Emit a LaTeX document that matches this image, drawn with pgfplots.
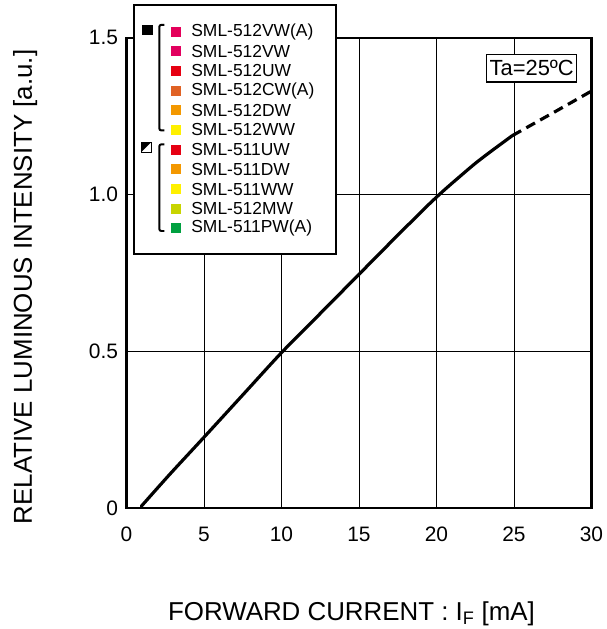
\documentclass[border=0pt]{standalone}
\usepackage{pgfplots}
\pgfplotsset{compat=1.18}
\usepackage{fontspec}
\setmainfont{Liberation Sans}
\definecolor{cVWA}{HTML}{E4005A}
\definecolor{cVW}{HTML}{E2005F}
\definecolor{cUW}{HTML}{E60012}
\definecolor{cCW}{HTML}{E06225}
\definecolor{cDW}{HTML}{F39800}
\definecolor{cWW}{HTML}{FFF000}
\definecolor{cMW}{HTML}{C8D400}
\definecolor{cPW}{HTML}{00A040}
\begin{document}
\begin{tikzpicture}[x=1pt,y=1pt]
\begin{axis}[
  at={(0,0)}, anchor=south west,
  width=467pt, height=472pt, scale only axis,
  xmin=0, xmax=30, ymin=0, ymax=1.5,
  xtick={0,5,...,30},
  ytick={0,0.5,1,1.5},
  yticklabels={0,0.5,1.0,1.5},
  major tick length=0pt,
  grid=major,
  grid style={black, line width=0.8pt},
  axis line style={line width=2.4pt},
  tick label style={font=\fontsize{21}{24}\selectfont},
  /pgf/number format/assume math mode=true,
  xticklabel style={yshift=-16pt},
  yticklabel style={xshift=-5pt},
  xlabel={FORWARD CURRENT : I\textsubscript{F} [mA]},
  ylabel={RELATIVE LUMINOUS INTENSITY [a.u.]},
  label style={font=\fontsize{26}{29}\selectfont},
  xlabel style={at={(axis description cs:0.484,-0.2394)}, anchor=base},
  ylabel style={at={(axis description cs:-0.2034,0.47)}, anchor=base},
  clip=false,
]
\addplot[black, line width=3.2pt, line cap=round, line join=round, smooth, tension=0.5] coordinates {
(0.96,0.005) (2,0.063) (3,0.118) (5,0.225) (7.5,0.36) (10,0.495) (12.5,0.62)
(15,0.745) (17.5,0.87) (18.5,0.919) (19.5,0.968) (20.5,1.014) (21.5,1.057) (22.5,1.099) (23.5,1.137) (24.9,1.188)};
\addplot[black, line width=3.2pt, dash pattern=on 10pt off 6pt] coordinates {
(24.9,1.188) (27.5,1.26) (30,1.33)};
\end{axis}
% Ta box
\node[draw, fill=white, line width=1.2pt, inner xsep=3pt, inner ysep=6pt,
  font=\fontsize{22}{25}\selectfont] at (407,441.5) {Ta=25ºC};
% legend box
\draw[fill=white, line width=2pt] (8,505) rectangle (210,255);
\fill[black] (16,474.5) rectangle (27,484.5);
\draw[line width=0.8pt] (14.7,357) rectangle (24.7,367);
\fill[black] (14.7,367) -- (24.7,367) -- (14.7,357) -- cycle;
\draw[line width=2pt, rounded corners=2pt] (38,485) -- (33,485) -- (33,379) -- (38,379);
\draw[line width=2pt, rounded corners=2pt] (38,365) -- (33,365) -- (33,278) -- (38,278);
\foreach \c/\t [count=\i from 0] in {cVWA/SML-512VW(A), cVW/SML-512VW, cUW/SML-512UW, cCW/SML-512CW(A), cDW/SML-512DW, cWW/SML-512WW, cUW/SML-511UW, cDW/SML-511DW, cWW/SML-511WW, cMW/SML-512MW, cPW/SML-511PW(A)}{
  \pgfmathsetmacro{\yy}{510-31.7-19.77*\i}
  \fill[\c] (44.7,\yy-5) rectangle (54.7,\yy+5);
  \node[anchor=west, inner sep=0pt, font=\fontsize{17.5}{20}\selectfont] at (65,\yy) {\t};
}
\path[use as bounding box] (-127,-119) rectangle (479,510);
\end{tikzpicture}
\end{document}
